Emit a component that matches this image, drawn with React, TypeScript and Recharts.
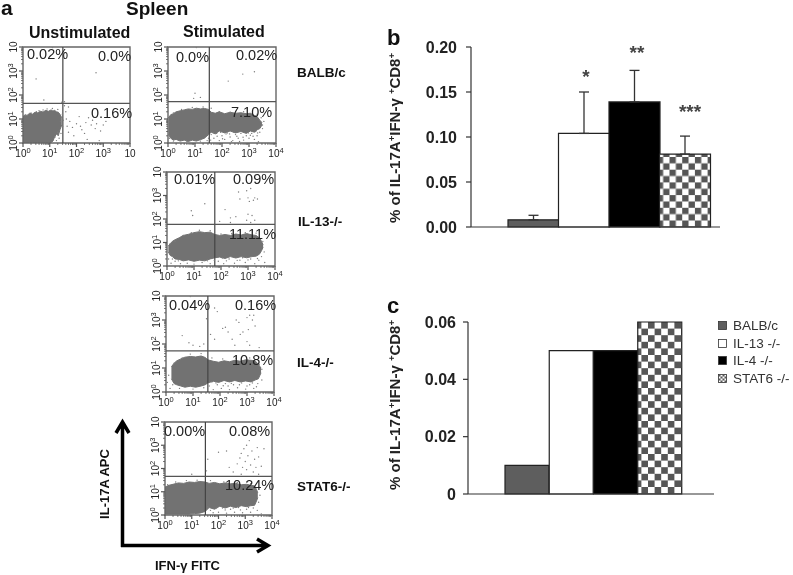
import {
  Area,
  Bar,
  BarChart,
  Cell,
  ComposedChart,
  ErrorBar,
  Legend,
  ReferenceArea,
  ReferenceLine,
  Scatter,
  XAxis,
  YAxis,
} from "recharts";

type Pt = [number, number];

const SANS = "'Liberation Sans', Arial, sans-serif";
const INK = "#222222";
const BLOB = "#727272";

// Log decades on the flow plots, minor ticks at 2..9 of each decade
const flowTicks = [
  0, 0.3, 0.48, 0.6, 0.7, 0.78, 0.85, 0.9, 0.95, 1, 1.3, 1.48, 1.6, 1.7, 1.78, 1.85, 1.9, 1.95, 2,
  2.3, 2.48, 2.6, 2.7, 2.78, 2.85, 2.9, 2.95, 3, 3.3, 3.48, 3.6, 3.7, 3.78, 3.85, 3.9, 3.95, 4,
];

// Dense population outlines: x, low, high (in decades)
const unstimBlob = [
  [0, 0.02, 1.1], [0.08, 0.02, 1.18], [0.15, 0.02, 1.15], [0.25, 0.02, 1.24], [0.35, 0.02, 1.2],
  [0.45, 0.02, 1.28], [0.55, 0.02, 1.26], [0.65, 0.02, 1.32], [0.75, 0.02, 1.29], [0.85, 0.02, 1.36],
  [0.95, 0.02, 1.32], [1.05, 0.02, 1.38], [1.12, 0.08, 1.33], [1.18, 0.25, 1.36], [1.25, 0.38, 1.3],
  [1.32, 0.3, 1.28], [1.38, 0.55, 1.2], [1.45, 0.75, 1.05],
];
const balbBlob = [
  [0.02, 0.35, 1.05], [0.1, 0.2, 1.18], [0.2, 0.12, 1.22], [0.3, 0.15, 1.3], [0.45, 0.08, 1.34],
  [0.6, 0.12, 1.38], [0.75, 0.06, 1.42], [0.9, 0.12, 1.4], [1.05, 0.08, 1.45], [1.2, 0.14, 1.42],
  [1.35, 0.2, 1.44], [1.5, 0.35, 1.4], [1.6, 0.45, 1.28], [1.75, 0.38, 1.24], [1.9, 0.5, 1.3],
  [2.1, 0.42, 1.22], [2.3, 0.5, 1.28], [2.5, 0.42, 1.24], [2.7, 0.48, 1.26], [2.9, 0.4, 1.22],
  [3.05, 0.5, 1.24], [3.2, 0.45, 1.15], [3.3, 0.55, 1.1], [3.4, 0.6, 0.95], [3.48, 0.75, 0.85],
];
const il13Blob = [
  [0.05, 0.6, 0.85], [0.12, 0.45, 0.95], [0.2, 0.4, 1.05], [0.3, 0.3, 1.12], [0.45, 0.28, 1.2],
  [0.6, 0.22, 1.3], [0.8, 0.26, 1.35], [1.0, 0.2, 1.42], [1.2, 0.25, 1.46], [1.4, 0.22, 1.42],
  [1.6, 0.3, 1.44], [1.77, 0.35, 1.34], [1.95, 0.38, 1.3], [2.15, 0.32, 1.34], [2.35, 0.4, 1.3],
  [2.55, 0.34, 1.36], [2.75, 0.4, 1.32], [2.95, 0.35, 1.38], [3.15, 0.4, 1.32], [3.3, 0.42, 1.3],
  [3.42, 0.5, 1.2], [3.5, 0.65, 1.05], [3.56, 0.8, 0.9],
];
const il4Blob = [
  [0.2, 0.55, 1.05], [0.3, 0.35, 1.2], [0.4, 0.3, 1.3], [0.55, 0.25, 1.38], [0.7, 0.2, 1.45],
  [0.9, 0.24, 1.48], [1.1, 0.2, 1.46], [1.3, 0.25, 1.5], [1.45, 0.3, 1.44], [1.55, 0.38, 1.34],
  [1.75, 0.45, 1.28], [1.95, 0.4, 1.24], [2.15, 0.48, 1.3], [2.35, 0.42, 1.26], [2.55, 0.48, 1.32],
  [2.75, 0.42, 1.28], [2.95, 0.46, 1.34], [3.15, 0.42, 1.32], [3.3, 0.5, 1.3], [3.42, 0.55, 1.15],
  [3.52, 0.8, 1.0],
];
const stat6Blob = [
  [0, 0.04, 1.2], [0.15, 0.04, 1.28], [0.3, 0.04, 1.32], [0.5, 0.04, 1.38], [0.7, 0.04, 1.36],
  [0.9, 0.04, 1.42], [1.1, 0.06, 1.4], [1.3, 0.08, 1.44], [1.5, 0.15, 1.42], [1.65, 0.32, 1.36],
  [1.85, 0.25, 1.4], [2.05, 0.38, 1.34], [2.25, 0.3, 1.38], [2.45, 0.38, 1.34], [2.65, 0.32, 1.36],
  [2.85, 0.4, 1.3], [3.05, 0.36, 1.32], [3.2, 0.4, 1.28], [3.35, 0.42, 1.25], [3.42, 0.6, 1.1],
  [3.47, 0.75, 0.95],
];

// Sparse events
const unstimDots: Pt[] = [
  [0.49, 2.67], [2.73, 2.93], [1.1, 3.98], [0.78, 1.79], [1.45, 1.7], [1.55, 1.72], [1.6, 1.3],
  [1.62, 1.0], [1.65, 0.7], [1.7, 0.45], [1.75, 0.9], [1.85, 0.65], [1.9, 0.3], [2.0, 0.8],
  [2.1, 1.1], [2.15, 0.7], [2.2, 0.55], [2.3, 0.4], [2.35, 0.85], [2.4, 0.15], [2.45, 1.05],
  [2.55, 0.75], [2.6, 0.95], [2.7, 0.6], [2.75, 0.8], [2.85, 0.1], [2.9, 0.5], [3.0, 0.75],
  [3.1, 0.9], [1.55, 1.55], [1.7, 1.5], [1.3, 1.4], [1.1, 1.44], [0.9, 1.42], [0.6, 1.35],
  [0.3, 1.25], [0.1, 1.15], [1.4, 0.9], [1.47, 1.2], [1.42, 0.4], [1.35, 0.2], [1.3, 0.45],
  [1.48, 0.7], [1.25, 0.1], [1.2, 0.25], [1.5, 0.95], [0.5, 1.3], [0.75, 1.38],
];
const balbDots: Pt[] = [
  [1.0, 2.07], [0.95, 1.86], [1.2, 1.9], [2.23, 2.58], [2.77, 2.87], [3.2, 2.97], [1.05, 3.98],
  [1.6, 0.35], [1.7, 0.2], [1.8, 0.4], [1.9, 0.1], [2, 0.3], [2.1, 0.15], [2.2, 0.42], [2.3, 0.25],
  [2.4, 0.1], [2.5, 0.35], [2.6, 0.2], [2.7, 0.4], [2.8, 0.12], [2.9, 0.3], [3, 0.2], [3.1, 0.4],
  [3.2, 0.15], [3.3, 0.3], [3.4, 0.45], [3.5, 0.6], [3.55, 0.9], [3.45, 1.05], [3.5, 0.75],
  [3.3, 1.2], [2.8, 1.3], [2.3, 1.28], [1.9, 1.3], [1.6, 1.45], [1.3, 1.5], [0.9, 1.48],
  [0.5, 1.4], [0.2, 1.25], [0.03, 0.9], [0.05, 0.2], [0.02, 0.5], [0.2, 0.08], [0.7, 0.05],
  [1.2, 0.08], [1.45, 0.1], [1.5, 0.2], [2.45, 0.45], [1.95, 0.45], [3.35, 0.05], [2.65, 0.06],
  [2.15, 0.38], [3.05, 0.32], [3.25, 0.48], [1.68, 0.44], [1.82, 0.28], [2.02, 0.18], [2.28, 0.38],
  [2.55, 0.28], [2.78, 0.24], [2.98, 0.42], [3.15, 0.28], [3.32, 0.42], [1.58, 0.12], [2.35, 0.05],
];
const il13Dots: Pt[] = [
  [0.9, 2.35], [0.95, 2.15], [1.4, 2.65], [2.15, 2.4], [2.35, 2.05], [2.65, 3.15], [2.7, 2.85],
  [2.95, 3.2], [3.0, 2.9], [3.05, 2.75], [3.1, 3.3], [3.2, 2.8], [3.25, 2.9], [3.35, 2.85],
  [3.15, 2.15], [3.0, 2.2], [2.95, 1.95], [3.1, 1.85], [2.55, 2.1], [2.35, 1.85], [1.95, 1.9],
  [3.25, 1.95], [0.06, 0.3], [0.1, 0.55], [0.15, 0.12], [0.3, 0.2], [0.5, 0.1], [0.75, 0.12],
  [1.0, 0.08], [1.3, 0.15], [1.6, 0.1], [1.9, 0.2], [2.1, 0.1], [2.3, 0.3], [2.5, 0.12], [2.7, 0.25],
  [2.9, 0.15], [3.1, 0.3], [3.25, 0.1], [3.4, 0.25], [3.5, 0.4], [3.6, 0.6], [3.62, 0.15], [3.55, 1.05],
  [3.3, 1.4], [2.9, 1.42], [2.4, 1.38], [2.0, 1.36], [1.6, 1.5], [1.2, 1.52], [0.9, 1.42], [0.6, 1.3],
  [0.3, 1.05], [0.12, 0.95], [1.5, 0.22], [2.05, 0.34], [2.8, 0.35], [1.75, 0.24], [2.2, 0.22],
  [2.6, 0.24], [3.0, 0.26], [3.35, 0.32], [0.42, 0.22], [0.2, 0.3],
];
const il4Dots: Pt[] = [
  [0.6, 2.35], [0.85, 2.05], [1.0, 1.95], [1.25, 1.9], [1.4, 2.0], [1.5, 3.05], [1.65, 2.4],
  [1.8, 3.5], [1.9, 3.35], [1.8, 2.2], [2.1, 2.65], [2.2, 2.7], [2.3, 2.5], [2.45, 2.2], [2.55, 1.95],
  [2.6, 3.0], [2.7, 2.9], [2.75, 2.4], [2.85, 2.5], [3.0, 3.1], [3.05, 2.6], [3.1, 3.2], [3.2, 3.0],
  [3.25, 3.2], [3.3, 2.75], [3.0, 2.1], [3.1, 1.95], [3.45, 1.85], [0.9, 3.98], [0.05, 0.4], [0.1, 0.7],
  [0.15, 0.15], [0.25, 0.3], [1.6, 0.25], [1.75, 0.1], [1.9, 0.3], [2.05, 0.15], [2.2, 0.35], [2.35, 0.1],
  [2.5, 0.3], [2.65, 0.18], [2.8, 0.38], [2.95, 0.12], [3.1, 0.3], [3.25, 0.15], [3.4, 0.35], [3.55, 0.5],
  [3.55, 0.95], [3.45, 1.15], [3.1, 1.42], [2.6, 1.4], [2.1, 1.38], [1.7, 1.42], [1.3, 1.6], [0.9, 1.58],
  [0.6, 1.42], [0.3, 1.2], [1.7, 0.42], [2.3, 0.25], [3.0, 0.25], [1.85, 0.38], [2.12, 0.26],
  [2.42, 0.36], [2.72, 0.3], [3.2, 0.38], [3.35, 0.22], [0.5, 0.15], [1.0, 0.12], [1.4, 0.18],
];
const stat6Dots: Pt[] = [
  [1.55, 1.9], [1.6, 2.4], [2.0, 2.7], [2.3, 2.75], [1.0, 1.75], [2.4, 2.05], [2.55, 1.85],
  [2.7, 2.2], [2.8, 2.45], [2.85, 2.65], [2.9, 2.05], [2.95, 2.85], [3.0, 2.3], [3.05, 1.95],
  [3.05, 3.0], [3.1, 2.55], [3.15, 3.2], [3.2, 2.15], [3.25, 2.75], [3.3, 1.85], [3.35, 2.4],
  [3.4, 2.05], [3.45, 2.9], [3.5, 2.5], [3.6, 2.1], [3.7, 2.85], [3.5, 1.75], [2.85, 1.75],
  [1.7, 0.2], [1.8, 0.1], [1.9, 0.28], [2.0, 0.12], [2.15, 0.3], [2.3, 0.08], [2.45, 0.25], [2.6, 0.12],
  [2.75, 0.32], [2.9, 0.1], [3.05, 0.25], [3.2, 0.12], [3.3, 0.3], [3.5, 0.55], [3.55, 0.85], [3.5, 1.2],
  [3.2, 1.35], [2.7, 1.4], [2.2, 1.42], [1.7, 1.48], [1.2, 1.5], [0.8, 1.48], [0.4, 1.42], [0.1, 1.3],
  [3.45, 0.2], [3.6, 0.05], [1.6, 0.35], [1.95, 0.32], [2.25, 0.22], [2.55, 0.3], [2.82, 0.22], [3.12, 0.32],
];

// Bar panels
const strains = ["BALB/c", "IL-13 -/-", "IL-4 -/-", "STAT6 -/-"];
const pooledMeans = [0.008, 0.104, 0.139, 0.081];
const pooledErrors = [0.005, 0.046, 0.035, 0.02];
const singleValues = [0.01, 0.05, 0.05, 0.06];
const pooledTicks = [0, 0.05, 0.1, 0.15, 0.2];
const singleTicks = [0, 0.02, 0.04, 0.06];

const barFills = (checkId: string) => ["#5e5e5e", "#ffffff", "#000000", `url(#${checkId})`];

const pooledData = strains.map((name, i) => ({
  name,
  value: pooledMeans[i],
  err: [0, pooledErrors[i]],
}));
const singleData = strains.map((name, i) => ({ name, value: singleValues[i] }));

function tenLabel(exp: number, plain: boolean) {
  return plain ? (
    "10"
  ) : (
    <>
      10
      <tspan dy={-4} fontSize={7.5}>
        {exp}
      </tspan>
    </>
  );
}

function FlowXTick({ x, y, payload, plainLast }: any) {
  const major = Number.isInteger(payload.value);
  return (
    <g>
      <line x1={x} x2={x} y1={y} y2={y + (major ? 4 : 2)} stroke="#555" strokeWidth={major ? 1.2 : 0.8} />
      {major && (
        <text x={x} y={y + 14} textAnchor="middle" fontSize={10} fill={INK} fontFamily={SANS}>
          {tenLabel(payload.value, plainLast && payload.value === 4)}
        </text>
      )}
    </g>
  );
}

function FlowYTick({ x, y, payload }: any) {
  const major = Number.isInteger(payload.value);
  return (
    <g>
      <line x1={x} x2={x - (major ? 4 : 2)} y1={y} y2={y} stroke="#555" strokeWidth={major ? 1.2 : 0.8} />
      {major && (
        <text
          x={x - 6}
          y={y}
          transform={`rotate(-90 ${x - 6} ${y})`}
          textAnchor="middle"
          fontSize={10}
          fill={INK}
          fontFamily={SANS}
        >
          {tenLabel(payload.value, payload.value === 4)}
        </text>
      )}
    </g>
  );
}

interface FlowPanelProps {
  left: number;
  top: number;
  w: number;
  h: number;
  gateX: number;
  gateY: number;
  blob: number[][];
  dots: Pt[];
  plainLast?: boolean;
}

function FlowPanel({ left, top, w, h, gateX, gateY, blob, dots, plainLast }: FlowPanelProps) {
  const data = blob.map(([x, lo, hi]) => ({ x, range: [lo, hi] }));
  const events = dots.map(([x, y]) => ({ x, y }));
  return (
    <div style={{ position: "absolute", left: left - 22, top: top - 9 }}>
      <ComposedChart
        width={22 + w + 14}
        height={9 + h + 20}
        data={data}
        margin={{ top: 9, right: 14, bottom: 0, left: 0 }}
      >
        <XAxis
          dataKey="x"
          type="number"
          domain={[0, 4]}
          ticks={flowTicks}
          interval={0}
          height={20}
          tickSize={0}
          tickMargin={0}
          tickLine={false}
          axisLine={false}
          allowDataOverflow
          tick={(p: any) => <FlowXTick {...p} plainLast={plainLast} />}
        />
        <YAxis
          type="number"
          domain={[0, 4]}
          ticks={flowTicks}
          interval={0}
          width={22}
          tickSize={0}
          tickMargin={0}
          tickLine={false}
          axisLine={false}
          allowDataOverflow
          tick={(p: any) => <FlowYTick {...p} />}
        />
        <Area dataKey="range" type="linear" fill={BLOB} fillOpacity={1} stroke={BLOB} strokeWidth={1} dot={false} activeDot={false} isAnimationActive={false} />
        <Scatter
          data={events}
          dataKey="y"
          isAnimationActive={false}
          shape={(p: any) => <circle cx={p.cx} cy={p.cy} r={0.7} fill="#7c7c7c" />}
        />
        <ReferenceLine x={gateX} stroke="#444" strokeWidth={1.2} />
        <ReferenceLine y={gateY} stroke="#555" strokeWidth={1.2} />
        <ReferenceArea x1={0} x2={4} y1={0} y2={4} fill="none" stroke="#666" strokeWidth={1.4} />
      </ComposedChart>
    </div>
  );
}

function Checker({ id, size, dx, dy }: { id: string; size: number; dx: number; dy: number }) {
  return (
    <defs>
      <pattern
        id={id}
        width={size}
        height={size}
        patternUnits="userSpaceOnUse"
        patternTransform={`translate(${dx} ${dy})`}
      >
        <rect width={size} height={size} fill="#fff" />
        <rect width={size / 2} height={size / 2} fill="#565656" />
        <rect x={size / 2} y={size / 2} width={size / 2} height={size / 2} fill="#565656" />
      </pattern>
    </defs>
  );
}

const barTick = { fontSize: 16, fontWeight: 700, fill: INK, fontFamily: SANS };
const barAxisLine = { stroke: "#333", strokeWidth: 1.2 };

function PooledBars() {
  const fills = barFills("checkB");
  return (
    <div style={{ position: "absolute", left: 380, top: 39 }}>
      <BarChart
        width={345}
        height={202}
        data={pooledData}
        barCategoryGap={0}
        margin={{ top: 8, right: 5, bottom: 0, left: 0 }}
      >
        <Checker id="checkB" size={12.7} dx={10.1} dy={3.7} />
        <XAxis dataKey="name" padding={{ left: 37, right: 10 }} tick={false} tickLine={false} height={14} axisLine={barAxisLine} />
        <YAxis
          width={91}
          domain={[0, 0.2]}
          ticks={pooledTicks}
          interval={0}
          tickSize={5}
          tickMargin={9}
          tickFormatter={(v: number) => v.toFixed(2)}
          tick={barTick}
          tickLine={barAxisLine}
          axisLine={barAxisLine}
        />
        <Bar dataKey="value" stroke="#222" strokeWidth={1.2} isAnimationActive={false}>
          {pooledData.map((d, i) => (
            <Cell key={d.name} fill={fills[i]} />
          ))}
          <ErrorBar dataKey="err" direction="y" width={5} stroke="#333" strokeWidth={1.3} isAnimationActive={false} />
        </Bar>
      </BarChart>
    </div>
  );
}

function StrainLegend() {
  const fills = barFills("checkLegend");
  return (
    <div style={{ fontFamily: SANS, fontSize: 13.5, color: "#333" }}>
      {strains.map((s, i) => (
        <div key={s} style={{ display: "flex", alignItems: "center", height: 17.6 }}>
          <svg width={9} height={9} style={{ marginRight: 6 }}>
            <rect x={0.5} y={0.5} width={8} height={8} fill={fills[i]} stroke="#333" strokeWidth={0.8} />
          </svg>
          {s}
        </div>
      ))}
    </div>
  );
}

function SingleBars() {
  const fills = barFills("checkC");
  return (
    <div style={{ position: "absolute", left: 380, top: 314 }}>
      <BarChart
        width={413}
        height={194}
        data={singleData}
        barCategoryGap={0}
        margin={{ top: 8, right: 79, bottom: 0, left: 0 }}
      >
        <Checker id="checkC" size={13.2} dx={4} dy={8} />
        <Checker id="checkLegend" size={4} dx={0.5} dy={0.5} />
        <XAxis dataKey="name" padding={{ left: 37, right: 32 }} tick={false} tickLine={false} height={14} axisLine={barAxisLine} />
        <YAxis
          width={88}
          domain={[0, 0.06]}
          ticks={singleTicks}
          interval={0}
          tickSize={5}
          tickMargin={7}
          tickFormatter={(v: number) => (v === 0 ? "0" : v.toFixed(2))}
          tick={barTick}
          tickLine={barAxisLine}
          axisLine={barAxisLine}
        />
        <Bar dataKey="value" stroke="#222" strokeWidth={1.2} isAnimationActive={false}>
          {singleData.map((d, i) => (
            <Cell key={d.name} fill={fills[i]} />
          ))}
        </Bar>
        <Legend
          layout="horizontal"
          verticalAlign="middle"
          content={() => <StrainLegend />}
          wrapperStyle={{ left: 338, top: 3, width: 75, height: 72 }}
        />
      </BarChart>
    </div>
  );
}

function CellsLabel({ x, y }: { x: number; y: number }) {
  return (
    <text
      x={x}
      y={y}
      transform={`rotate(-90 ${x} ${y})`}
      textAnchor="middle"
      fontSize={15}
      fontWeight={700}
      fill={INK}
    >
      % of IL-17A
      <tspan dy={-5} fontSize={9.5}>+</tspan>
      <tspan dy={5}>IFN-γ </tspan>
      <tspan dy={-5} fontSize={9.5}>+</tspan>
      <tspan dy={5}>CD8</tspan>
      <tspan dy={-5} fontSize={9.5}>+</tspan>
    </text>
  );
}

function Pct({ x, y, children }: { x: number; y: number; children: string }) {
  return (
    <text x={x} y={y} fontSize={14.5} fill={INK}>
      {children}
    </text>
  );
}

function Bold({ x, y, size, children }: { x: number; y: number; size: number; children: string }) {
  return (
    <text x={x} y={y} fontSize={size} fontWeight={700} fill="#111">
      {children}
    </text>
  );
}

function Stars({ x, y, children }: { x: number; y: number; children: string }) {
  return (
    <text x={x} y={y} fontSize={19} fontWeight={700} fill="#444" textAnchor="middle">
      {children}
    </text>
  );
}

function Annotations() {
  return (
    <svg
      width={793}
      height={575}
      style={{ position: "absolute", left: 0, top: 0, fontFamily: SANS, pointerEvents: "none" }}
    >
      <Bold x={1} y={15} size={21}>a</Bold>
      <Bold x={126} y={15} size={19}>Spleen</Bold>
      <Bold x={29} y={38} size={16}>Unstimulated</Bold>
      <Bold x={183} y={37} size={16}>Stimulated</Bold>
      <Bold x={387} y={45} size={22}>b</Bold>
      <Bold x={387} y={313} size={22}>c</Bold>

      <Pct x={27} y={59}>0.02%</Pct>
      <Pct x={98} y={61}>0.0%</Pct>
      <Pct x={91} y={118}>0.16%</Pct>
      <Pct x={176} y={62}>0.0%</Pct>
      <Pct x={236} y={60}>0.02%</Pct>
      <Pct x={231} y={117}>7.10%</Pct>
      <Pct x={174} y={184}>0.01%</Pct>
      <Pct x={233} y={184}>0.09%</Pct>
      <Pct x={229} y={239}>11.11%</Pct>
      <Pct x={169} y={310}>0.04%</Pct>
      <Pct x={235} y={310}>0.16%</Pct>
      <Pct x={232} y={365}>10.8%</Pct>
      <Pct x={164} y={436}>0.00%</Pct>
      <Pct x={229} y={436}>0.08%</Pct>
      <Pct x={225} y={490}>10.24%</Pct>

      <Bold x={297} y={77} size={13.5}>BALB/c</Bold>
      <Bold x={298} y={226} size={13.5}>IL-13-/-</Bold>
      <Bold x={297} y={367} size={13.5}>IL-4-/-</Bold>
      <Bold x={297} y={491} size={13.5}>STAT6-/-</Bold>

      <path d="M122.5 547 V422 M116 433 L122.5 422 L129 433" fill="none" stroke="#000" strokeWidth={3.5} />
      <path d="M121 545.5 H268 M257 539 L268 545.5 L257 552" fill="none" stroke="#000" strokeWidth={3.5} />
      <text
        x={109}
        y={484}
        transform="rotate(-90 109 484)"
        textAnchor="middle"
        fontSize={13}
        fontWeight={700}
        fill="#111"
      >
        IL-17A APC
      </text>
      <Bold x={155} y={570} size={13}>IFN-γ FITC</Bold>

      <CellsLabel x={400} y={138} />
      <CellsLabel x={400} y={405} />

      <Stars x={586} y={83}>*</Stars>
      <Stars x={637} y={59}>**</Stars>
      <Stars x={690} y={118}>***</Stars>
    </svg>
  );
}

export default function App() {
  return (
    <div
      style={{
        position: "absolute",
        left: 0,
        top: 0,
        width: 793,
        height: 575,
        overflow: "hidden",
        background: "#fff",
        filter: "blur(0.3px)",
      }}
    >
      <FlowPanel left={23} top={47} w={107} h={96} gateX={1.49} gateY={1.65} blob={unstimBlob} dots={unstimDots} plainLast />
      <FlowPanel left={168} top={47} w={108} h={96} gateX={1.53} gateY={1.72} blob={balbBlob} dots={balbDots} />
      <FlowPanel left={167} top={172} w={108} h={94} gateX={1.77} gateY={1.77} blob={il13Blob} dots={il13Dots} />
      <FlowPanel left={166} top={296} w={108} h={96} gateX={1.55} gateY={1.71} blob={il4Blob} dots={il4Dots} />
      <FlowPanel left={165} top={422} w={107} h={93} gateX={1.51} gateY={1.66} blob={stat6Blob} dots={stat6Dots} />
      <PooledBars />
      <SingleBars />
      <Annotations />
    </div>
  );
}
